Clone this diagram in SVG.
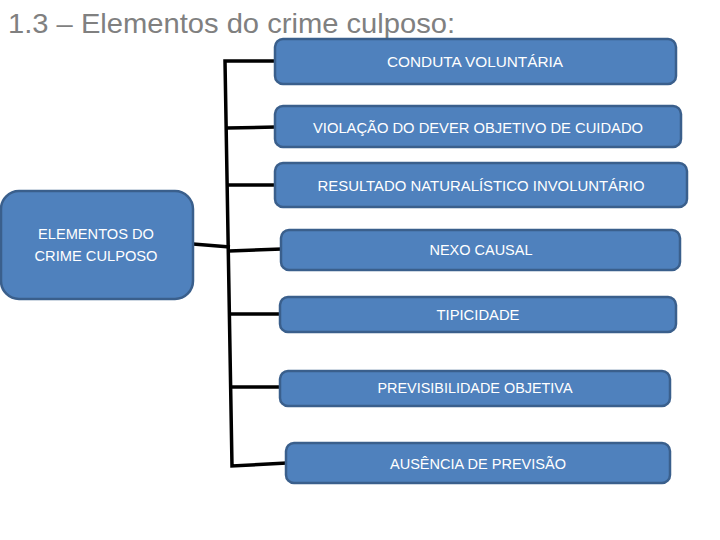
<svg xmlns="http://www.w3.org/2000/svg" width="720" height="540" viewBox="0 0 720 540">
<style>
.box{fill:#4F81BD;stroke:#3A5F8C;stroke-width:2.5}
.lbl{font-family:"Liberation Sans",Arial,sans-serif;font-size:14px;fill:#FFFFFF;text-anchor:middle;dominant-baseline:central}
.title{font-family:"Liberation Sans",Arial,sans-serif;font-size:28px;fill:#808080}
.conn{fill:none;stroke:#000000;stroke-width:3.5;stroke-linejoin:miter}
</style>
<rect width="720" height="540" fill="#FFFFFF"/>
<text class="title" x="8" y="33" textLength="447" lengthAdjust="spacingAndGlyphs">1.3 – Elementos do crime culposo:</text>
<g id="connectors">
<path class="conn" d="M276,61 H225 L232,466 L287,463"/>
<path class="conn" d="M227,128 L276,127"/>
<path class="conn" d="M228,185 L276,185"/>
<path class="conn" d="M193,244 L230,247"/>
<path class="conn" d="M229,251 L282,249"/>
<path class="conn" d="M229,314 L281,314"/>
<path class="conn" d="M231,387 L281,387"/>
</g>
<g id="elementos">
<rect class="box" x="1" y="191" width="192" height="108" rx="18"/>
<text class="lbl" x="96" y="234" textLength="116" lengthAdjust="spacingAndGlyphs">ELEMENTOS DO</text>
<text class="lbl" x="96" y="256" textLength="123" lengthAdjust="spacingAndGlyphs">CRIME CULPOSO</text>
</g>
<g id="conduta">
<rect class="box" x="275" y="39" width="401" height="45" rx="8"/>
<text class="lbl" x="475" y="62" textLength="176" lengthAdjust="spacingAndGlyphs">CONDUTA VOLUNTÁRIA</text>
</g>
<g id="violacao">
<rect class="box" x="275" y="106" width="406" height="41" rx="8"/>
<text class="lbl" x="478" y="128" textLength="330" lengthAdjust="spacingAndGlyphs">VIOLAÇÃO DO DEVER OBJETIVO DE CUIDADO</text>
</g>
<g id="resultado">
<rect class="box" x="275" y="163" width="412" height="44" rx="8"/>
<text class="lbl" x="481" y="186" textLength="327" lengthAdjust="spacingAndGlyphs">RESULTADO NATURALÍSTICO INVOLUNTÁRIO</text>
</g>
<g id="nexo">
<rect class="box" x="281" y="230" width="399" height="40" rx="8"/>
<text class="lbl" x="481" y="250" textLength="103" lengthAdjust="spacingAndGlyphs">NEXO CAUSAL</text>
</g>
<g id="tipicidade">
<rect class="box" x="280" y="297" width="396" height="35" rx="8"/>
<text class="lbl" x="478" y="315" textLength="83" lengthAdjust="spacingAndGlyphs">TIPICIDADE</text>
</g>
<g id="previsibilidade">
<rect class="box" x="280" y="371" width="390" height="35" rx="8"/>
<text class="lbl" x="475" y="388" textLength="195" lengthAdjust="spacingAndGlyphs">PREVISIBILIDADE OBJETIVA</text>
</g>
<g id="ausencia">
<rect class="box" x="286" y="443" width="384" height="40" rx="8"/>
<text class="lbl" x="478" y="464" textLength="176" lengthAdjust="spacingAndGlyphs">AUSÊNCIA DE PREVISÃO</text>
</g>
</svg>
